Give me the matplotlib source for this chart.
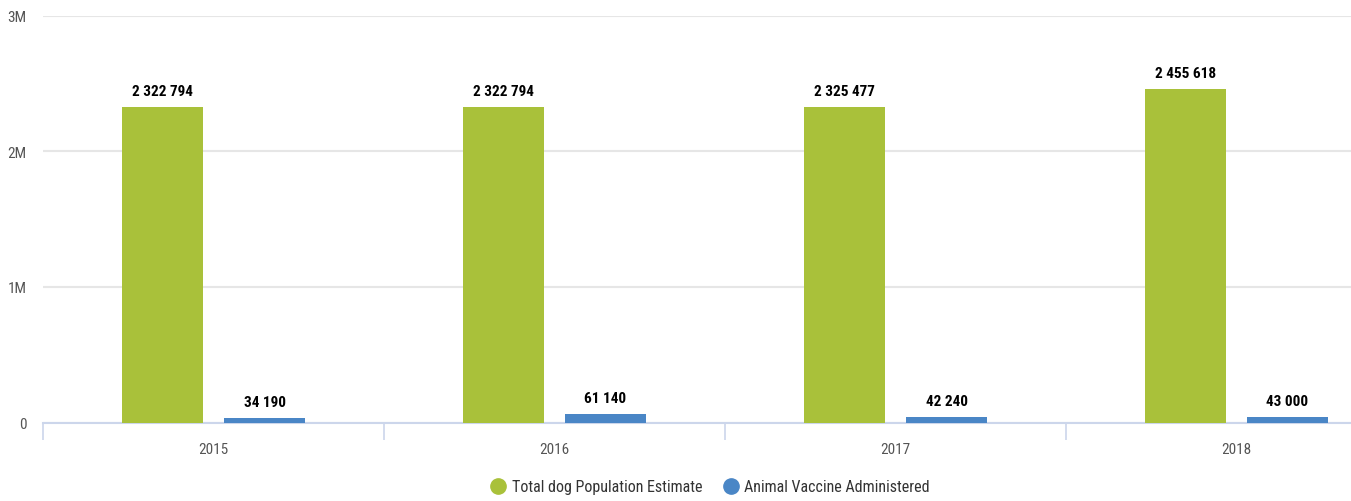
import matplotlib
matplotlib.use("Agg")
import matplotlib.pyplot as plt
from matplotlib.lines import Line2D
from matplotlib import font_manager

years = ["2015", "2016", "2017", "2018"]
dog_population = [2322794, 2322794, 2325477, 2455618]
vaccines = [34190, 61140, 42240, 43000]
series_names = ["Total dog Population Estimate", "Animal Vaccine Administered"]
ytick_vals = [0, 1000000, 2000000, 3000000]
ytick_labels = ["0", "1M", "2M", "3M"]

names = {f.name for f in font_manager.fontManager.ttflist}
narrow = "DejaVu Sans"
for cand in ["Liberation Sans Narrow", "Roboto Condensed", "Archivo Narrow", "Asap Condensed", "Barlow Semi Condensed"]:
    if cand in names:
        narrow = cand
        break
fam = [narrow, "DejaVu Sans"]

green = "#a9c13a"
blue = "#4a86c6"

W, H = 1351, 502
y0, y3 = 423.5, 16.5
fig = plt.figure(figsize=(W / 100, H / 100), dpi=100)
ax = fig.add_axes([43 / W, (H - y0) / H, 1364 / W, (y0 - y3) / H])

x = list(range(len(years)))
bw = 0.2375
off = 0.1496
ax.bar([i - off for i in x], dog_population, width=bw, color=green, zorder=3)
ax.bar([i + off for i in x], vaccines, width=bw, color=blue, zorder=3)

def fmt(v):
    return f"{v:,}".replace(",", " ")

for i in x:
    ax.annotate(fmt(dog_population[i]), (i - off, dog_population[i]), xytext=(0, 6.5),
                textcoords="offset points", ha="center", va="bottom",
                fontsize=11, fontweight="bold", family=fam, color="#000000")
    ax.annotate(fmt(vaccines[i]), (i + off, vaccines[i]), xytext=(0, 6.5),
                textcoords="offset points", ha="center", va="bottom",
                fontsize=11, fontweight="bold", family=fam, color="#000000")

ax.set_xlim(-0.5, len(years) - 0.5)
ax.set_ylim(0, 3000000)
ax.set_yticks(ytick_vals)
ax.set_yticklabels(ytick_labels, family=fam, fontsize=11, color="#555555")
ax.tick_params(axis="y", length=0, pad=12)
ax.grid(axis="y", color="#e6e6e6", linewidth=1.5, zorder=0)

ax.set_xticks(x)
ax.set_xticklabels(years, family=fam, fontsize=11, color="#555555")
ax.tick_params(axis="x", which="major", length=0, pad=14)
ax.set_xticks([i - 0.5 for i in range(len(years) + 1)], minor=True)
ax.tick_params(axis="x", which="minor", length=12, color="#ccd6eb", width=1.2)

for s in ["top", "right", "left"]:
    ax.spines[s].set_visible(False)
ax.spines["bottom"].set_color("#ccd6eb")
ax.spines["bottom"].set_linewidth(1.5)

handles = [Line2D([], [], marker="o", linestyle="none", markersize=11, color=green),
           Line2D([], [], marker="o", linestyle="none", markersize=11, color=blue)]
leg = fig.legend(handles, series_names, loc="center", bbox_to_anchor=(710 / W, (H - 488) / H),
                 ncol=2, frameon=False, handlelength=1.0, handletextpad=0.35, columnspacing=1.3,
                 prop={"family": fam, "size": 11.5})
for t in leg.get_texts():
    t.set_color("#333333")

fig.savefig("out.png", dpi=100)
